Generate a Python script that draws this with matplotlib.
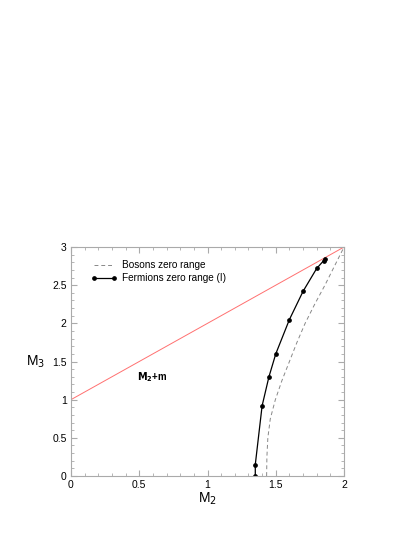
import matplotlib
matplotlib.use("Agg")
import matplotlib.pyplot as plt
from matplotlib.ticker import MultipleLocator, FuncFormatter

# fermions zero range (I)
ferm_m2 = [1.35, 1.35, 1.40, 1.45, 1.50, 1.60, 1.70, 1.80, 1.85, 1.86]
ferm_m3 = [0.00, 0.15, 0.92, 1.30, 1.60, 2.05, 2.42, 2.72, 2.82, 2.84]

# bosons zero range
bos_m2 = [1.433, 1.435, 1.442, 1.460, 1.497, 1.545, 1.600, 1.655, 1.715, 1.785, 1.860, 1.930, 2.000]
bos_m3 = [0.00, 0.25, 0.50, 0.75, 1.00, 1.25, 1.50, 1.75, 2.00, 2.25, 2.50, 2.75, 3.00]

# threshold M2 + m
thr_m2 = [0.0, 2.0]
thr_m3 = [1.0, 3.0]

plt.rcParams['font.family'] = ['Liberation Sans', 'DejaVu Sans']

fig = plt.figure(figsize=(4.15, 5.37), dpi=100)
ax = fig.add_axes([0.171, 0.1136, 0.658, 0.4264])

ax.plot(thr_m2, thr_m3, color='#ff7070', lw=0.7)
ax.plot(bos_m2, bos_m3, color='#888888', lw=0.7, ls=(0, (4, 3)),
        label='Bosons zero range')
ax.plot(ferm_m2, ferm_m3, color='black', lw=0.9, marker='o', ms=2.4,
        label='Fermions zero range (I)')

ax.text(0.48, 1.30, r'$\mathbf{M_2}$+m', fontsize=7, fontweight='bold',
        va='center', ha='left')

ax.set_xlim(0, 2)
ax.set_ylim(0, 3)
ax.xaxis.set_major_locator(MultipleLocator(0.5))
ax.xaxis.set_minor_locator(MultipleLocator(0.1))
ax.yaxis.set_major_locator(MultipleLocator(0.5))
ax.yaxis.set_minor_locator(MultipleLocator(0.1))
ax.xaxis.set_major_formatter(FuncFormatter(lambda v, p: '%g' % v))
ax.yaxis.set_major_formatter(FuncFormatter(lambda v, p: '%g' % v))

for s in ax.spines.values():
    s.set_color('#aaaaaa')
    s.set_linewidth(0.8)
ax.tick_params(which='both', direction='in', top=True, right=True,
               color='#aaaaaa', labelsize=7.5, pad=3)
ax.tick_params(which='major', length=4)
ax.tick_params(which='minor', length=2)

ax.set_xlabel(r'M$_2$', fontsize=10, labelpad=0)
ax.set_ylabel(r'M$_3$', fontsize=10, rotation=0, labelpad=12, va='center')

ax.legend(loc='upper left', bbox_to_anchor=(0.06, 0.96), frameon=False,
          fontsize=7.2, handlelength=2.6, handletextpad=0.5, numpoints=2,
          labelspacing=0.3, borderaxespad=0)

fig.savefig('out.png', dpi=100)
